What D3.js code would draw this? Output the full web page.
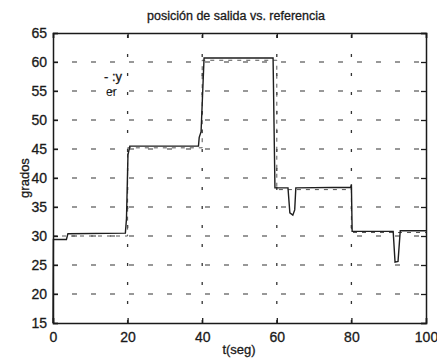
<!DOCTYPE html>
<html>
<head>
<meta charset="utf-8">
<script src="https://cdn.jsdelivr.net/npm/d3@7"></script>
<style>
  body { margin: 0; background: #fff; }
  svg text { font-family: "Liberation Sans", Arial, sans-serif; fill: #1a1a1a; stroke: #1a1a1a; stroke-width: 0.3px; }
</style>
</head>
<body>
<script>
// salida (output) of the system, sampled where it changes
var tOut = [0, 0.1, 3.6, 4.0, 19.4, 19.7, 20.1, 20.6, 39.0, 39.2, 39.7, 40.5, 59.0, 59.5, 63.0, 63.5, 64.3, 64.8, 65.1, 79.8, 80.0, 80.2, 91.2, 91.7, 92.5, 93.1, 100];
var yOut = [15, 29.4, 29.4, 30.4, 30.5, 33, 44, 45.5, 45.5, 47, 48, 60.7, 60.7, 38.3, 38.3, 34, 33.6, 34.5, 38.3, 38.4, 38.9, 30.8, 30.8, 25.5, 25.6, 30.9, 30.9];

// referencia (step setpoint)
var tRef = [0, 20, 20, 40, 40, 60, 60, 80, 80, 100];
var yRef = [30, 30, 45.2, 45.2, 60.3, 60.3, 38, 38, 30.6, 30.6];

var xTicks = [0, 20, 40, 60, 80, 100];
var yTicks = [15, 20, 25, 30, 35, 40, 45, 50, 55, 60, 65];

var W = 437, H = 360;
var margin = {top: 33, right: 11, bottom: 37, left: 53};

var svg = d3.select("body").append("svg")
  .attr("width", W)
  .attr("height", H);

var x = d3.scaleLinear().domain([0, 100]).range([margin.left, W - margin.right]);
var y = d3.scaleLinear().domain([15, 65]).range([H - margin.bottom, margin.top]);

// grid: dashed horizontals, dotted verticals (inner values only)
svg.append("g").selectAll("line.hgrid")
  .data(yTicks.slice(1, -1))
  .enter().append("line")
  .attr("class", "hgrid")
  .attr("x1", x(0)).attr("x2", x(100))
  .attr("y1", function(d) { return y(d); })
  .attr("y2", function(d) { return y(d); })
  .attr("stroke", "#333")
  .attr("stroke-width", 1.2)
  .attr("stroke-dasharray", "5,14");

svg.append("g").selectAll("line.vgrid")
  .data(xTicks.slice(1, -1))
  .enter().append("line")
  .attr("class", "vgrid")
  .attr("x1", function(d) { return x(d); })
  .attr("x2", function(d) { return x(d); })
  .attr("y1", y(15)).attr("y2", y(65))
  .attr("stroke", "#333")
  .attr("stroke-width", 1.3)
  .attr("stroke-dasharray", "3,16");

// reference, dashed
var line = d3.line()
  .x(function(d) { return x(d[0]); })
  .y(function(d) { return y(d[1]); });

svg.append("path")
  .datum(d3.zip(tRef, yRef))
  .attr("d", line)
  .attr("fill", "none")
  .attr("stroke", "#555")
  .attr("stroke-width", 1)
  .attr("stroke-dasharray", "4,5");

// output, solid
svg.append("path")
  .datum(d3.zip(tOut, yOut))
  .attr("d", line)
  .attr("fill", "none")
  .attr("stroke", "#1e1e1e")
  .attr("stroke-width", 1.4);

// axes with inward ticks on all four sides
var tick = 5;
var axBottom = svg.append("g")
  .attr("transform", "translate(0," + y(15) + ")")
  .call(d3.axisBottom(x).tickValues(xTicks).tickSize(-tick).tickPadding(9));
var axLeft = svg.append("g")
  .attr("transform", "translate(" + x(0) + ",0)")
  .call(d3.axisLeft(y).tickValues(yTicks).tickSize(-tick).tickPadding(6));
var axTop = svg.append("g")
  .attr("transform", "translate(0," + y(65) + ")")
  .call(d3.axisTop(x).tickValues(xTicks).tickSize(-tick).tickFormat(""));
var axRight = svg.append("g")
  .attr("transform", "translate(" + x(100) + ",0)")
  .call(d3.axisRight(y).tickValues(yTicks).tickSize(-tick).tickFormat(""));

[axBottom, axLeft, axTop, axRight].forEach(function(g) {
  g.select(".domain").attr("stroke", "#1a1a1a").attr("stroke-width", 1.5);
  g.selectAll(".tick line").attr("stroke", "#1a1a1a").attr("stroke-width", 1.3);
  g.selectAll(".tick text")
    .style("font-size", "14px")
    .style("font-family", "'Liberation Sans', Arial, sans-serif")
    .attr("fill", "#1a1a1a");
});

// title and labels
svg.append("text")
  .attr("x", 236).attr("y", 20)
  .attr("text-anchor", "middle")
  .style("font-size", "12.5px")
  .text("posición de salida vs. referencia");

svg.append("text")
  .attr("transform", "translate(29," + ((y(15) + y(65)) / 2) + ") rotate(-90)")
  .attr("text-anchor", "middle")
  .style("font-size", "13px")
  .text("grados");

svg.append("text")
  .attr("x", 239).attr("y", 354)
  .attr("text-anchor", "middle")
  .style("font-size", "13px")
  .text("t(seg)");

// remains of the legend
svg.append("text")
  .attr("x", 104).attr("y", 81)
  .style("font-size", "13px")
  .text("- :y");
svg.append("text")
  .attr("x", 106).attr("y", 96)
  .style("font-size", "12px")
  .attr("fill", "#555")
  .style("stroke", "none")
  .text("er");
</script>
</body>
</html>
